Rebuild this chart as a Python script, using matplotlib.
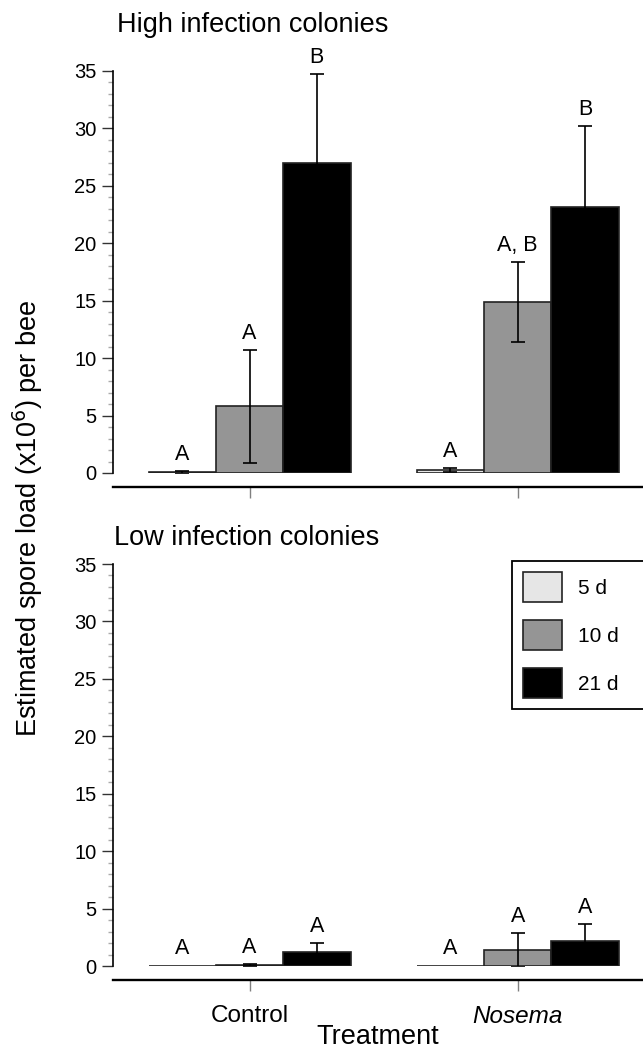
import numpy as np
import matplotlib
matplotlib.use("Agg")
import matplotlib.pyplot as plt
from matplotlib.ticker import MultipleLocator

plt.rcParams["font.family"] = ["Liberation Sans", "DejaVu Sans"]

# ---- data ----
treatments = ["Control", "Nosema"]
days = ["5 d", "10 d", "21 d"]
bar_colors = ["#e6e6e6", "#959595", "#000000"]

# high infection colonies (mean, error) per day, order: Control, Nosema
high_mean = {"5 d": [0.05, 0.27], "10 d": [5.8, 14.9], "21 d": [27.0, 23.2]}
high_err = {"5 d": [0.10, 0.15], "10 d": [4.95, 3.5], "21 d": [7.75, 7.0]}
high_letters = {"5 d": ["A", "A"], "10 d": ["A", "A, B"], "21 d": ["B", "B"]}

# low infection colonies
low_mean = {"5 d": [0.04, 0.04], "10 d": [0.08, 1.4], "21 d": [1.2, 2.2]}
low_err = {"5 d": [0.0, 0.0], "10 d": [0.06, 1.5], "21 d": [0.8, 1.45]}
low_letters = {"5 d": ["A", "A"], "10 d": ["A", "A"], "21 d": ["A", "A"]}

W, H = 643, 1051
fig = plt.figure(figsize=(W / 100, H / 100), dpi=100)

ax_left = 113 / W
ax_w = 1.0 - ax_left
ax_h = 402 / H
ax_top = fig.add_axes([ax_left, 1 - 473 / H, ax_w, ax_h])
ax_bot = fig.add_axes([ax_left, 1 - 966 / H, ax_w, ax_h])

x = np.arange(len(treatments))
bw = 0.251
offsets = [-bw, 0.0, bw]


def draw_panel(ax, means, errs, letters):
    handles = []
    for d, off, col in zip(days, offsets, bar_colors):
        m = np.array(means[d])
        e = np.array(errs[d])
        b = ax.bar(x + off, m, width=bw, color=col, edgecolor="#222222",
                   linewidth=1.2, label=d, zorder=2)
        handles.append(b)
        has_err = e > 0
        if has_err.any():
            ax.errorbar((x + off)[has_err], m[has_err], yerr=e[has_err],
                        fmt="none", ecolor="black", elinewidth=1.2,
                        capsize=5.3, capthick=1.2, zorder=3)
        for xi, mi, ei, lab in zip(x + off, m, e, letters[d]):
            ax.text(xi, max(mi + ei, 0.12) + 0.95, lab, ha="center",
                    va="baseline", fontsize=15.5)

    ax.set_ylim(0, 35)
    ax.set_xlim(-0.509, 1.467)
    ax.yaxis.set_major_locator(MultipleLocator(5))
    ax.yaxis.set_minor_locator(MultipleLocator(1))
    ax.tick_params(axis="y", which="major", length=7.7, width=1.0,
                   color="#333333", labelsize=14.5, pad=4)
    ax.tick_params(axis="y", which="minor", length=3.6, width=1.0,
                   color="#aaaaaa")
    ax.set_xticks(x)
    ax.tick_params(axis="x", length=8, width=1.0, color="#808080",
                   labelsize=17.5, pad=10)

    for s in ["top", "right"]:
        ax.spines[s].set_visible(False)
    ax.spines["left"].set_bounds(0, 35)
    ax.spines["left"].set_linewidth(1.2)
    ax.spines["bottom"].set_position(("outward", 10))
    ax.spines["bottom"].set_linewidth(1.7)
    ax.patch.set_alpha(0)
    return handles


draw_panel(ax_top, high_mean, high_err, high_letters)
ax_top.set_xticklabels([])

handles = draw_panel(ax_bot, low_mean, low_err, low_letters)
ax_bot.set_xticklabels(treatments)
ax_bot.get_xticklabels()[1].set_style("italic")

fig.text(378 / W, 1 - 1044.5 / H, "Treatment", fontsize=19.5,
         ha="center", va="baseline")
fig.text(117 / W, 1 - 32 / H, "High infection colonies", fontsize=19.5,
         ha="left", va="baseline")
fig.text(114 / W, 1 - 545 / H, "Low infection colonies", fontsize=19.5,
         ha="left", va="baseline")
fig.text(28 / W, 1 - 518 / H, "Estimated spore load (x10$^{6}$) per bee",
         fontsize=19.5, rotation=90, ha="center", va="center")

# legend box runs off the right edge, as in the original
leg = ax_bot.legend(handles=handles, labels=days, loc="upper left",
                    bbox_to_anchor=(512 / W, 0.2, 140 / W, 1 - 561 / H - 0.2),
                    bbox_transform=fig.transFigure, mode="expand",
                    fontsize=15, handlelength=1.85, handleheight=1.8,
                    labelspacing=0.88, handletextpad=0.75, borderpad=0.55,
                    fancybox=False, framealpha=1, borderaxespad=0)
leg.get_frame().set_edgecolor("black")
leg.get_frame().set_linewidth(1.3)

fig.savefig("out.png", dpi=100)
